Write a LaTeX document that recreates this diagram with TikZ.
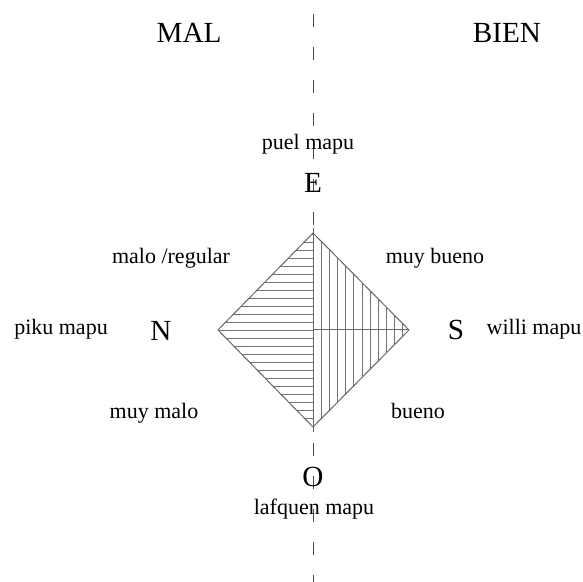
\documentclass[tikz,border=0pt]{standalone}
\usepackage{fontspec}
\setmainfont{Liberation Serif}
\usetikzlibrary{calc}

\begin{document}
\begin{tikzpicture}[x=0.5pt, y=0.5pt,
    big/.style={anchor=base, inner sep=0pt, font=\fontsize{14.6}{16}\selectfont},
    small/.style={anchor=base, inner sep=0pt, font=\fontsize{11}{13}\selectfont},
    hatch/.style={black!55, line width=0.45pt},
    edge/.style={black!60, line width=0.5pt}]

    \useasboundingbox (-313,-252) rectangle (270,330);

    % Half diagonals of the rhombus
    \pgfmathsetmacro{\w}{95}  % half width
    \pgfmathsetmacro{\h}{97}  % half height

    % --- 1. The dashed axis ---
    \coordinate (axisTop) at (0,330);
    \coordinate (axisBot) at (0,-252);
    \draw[black!70, line width=0.45pt, dash pattern=on 6.5pt off 10pt, dash phase=9.5pt] (axisTop) -- (axisBot);

    % --- 2. The rhombus ---
    \coordinate (C) at (0,0);
    \coordinate (T) at (0,\h);
    \coordinate (B) at (0,-\h);
    \coordinate (L) at (-\w,0);
    \coordinate (R) at (\w+1,0);

    % left half: horizontal hatching
    \begin{scope}
        \clip (T) -- (L) -- (B) -- cycle;
        \foreach \y in {-96,-88,...,96}
            \draw[hatch] (-\w,\y) -- (0,\y);
    \end{scope}

    % right half: vertical hatching
    \begin{scope}
        \clip (T) -- (R) -- (B) -- cycle;
        \foreach \x in {8.5,16.6,...,96}
            \draw[hatch] (\x,-\h) -- (\x,\h);
    \end{scope}

    \draw[edge] (T) -- (L) -- (B) -- (R) -- cycle;
    \draw[edge] (C) -- (R);
    \draw[edge] ($(T)+(0,5)$) -- ($(B)+(0,-5)$);

    % --- 3. Labels ---
    \node[big] (mal) at (-124,287) {MAL};
    \node[big] (bien) at (194,287) {BIEN};

    \node[small] (puel) at (-5,180) {puel mapu};
    \node[big] (E) at (0,137) {E};

    \node[small] (regular) at (-142,66) {malo /regular};
    \node[small] (muybueno) at (122,66) {muy bueno};

    \node[small] (piku) at (-252,-5) {piku mapu};
    \node[big] (N) at (-152,-11) {N};
    \node[big] (S) at (143,-10) {S};
    \node[small] (willi) at (221,-5) {willi mapu};

    \node[small] (muymalo) at (-159,-89) {muy malo};
    \node[small] (bueno) at (105,-89) {bueno};

    \node[big] (O) at (0,-157) {O};
    \node[small] (lafquen) at (1,-185) {lafquen mapu};

\end{tikzpicture}
\end{document}
